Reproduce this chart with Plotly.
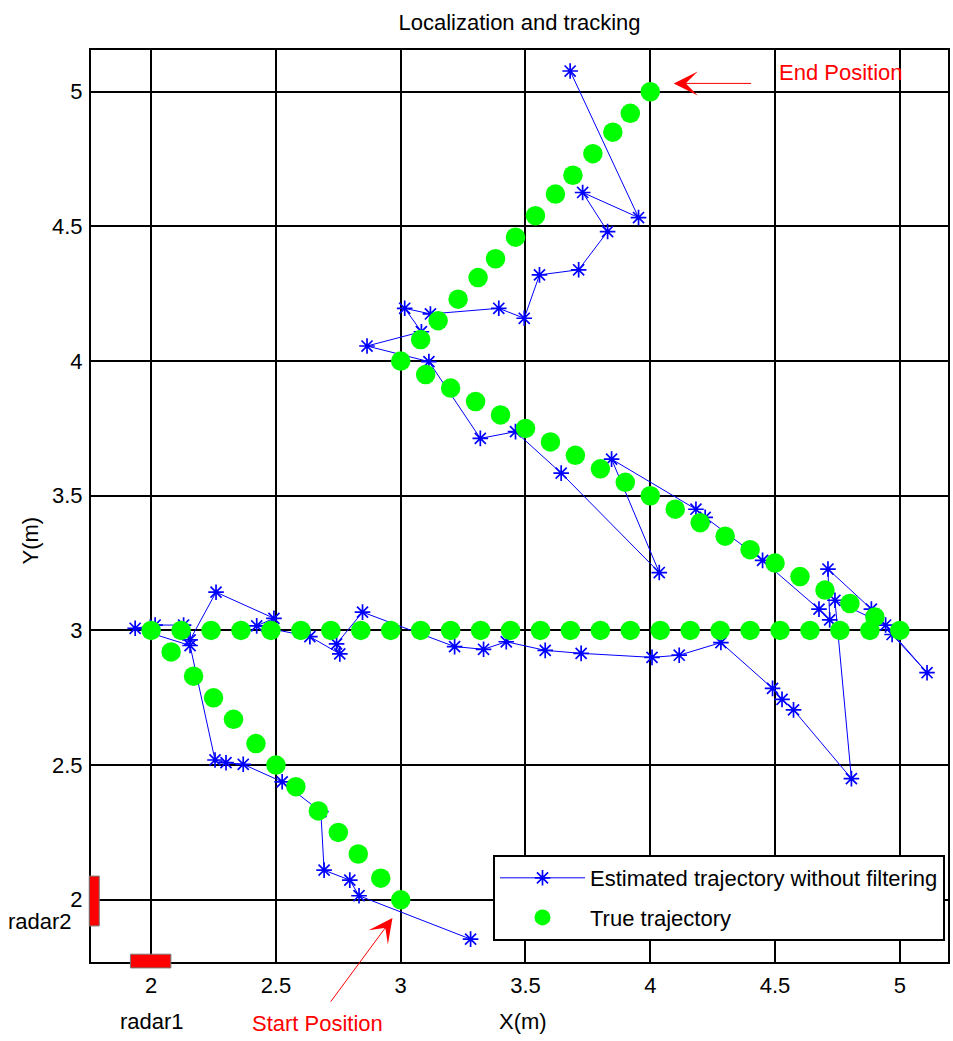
import plotly.graph_objects as go

# ---------------- data ----------------
true_x = [3.0, 2.92, 2.83, 2.75, 2.67, 2.58, 2.5, 2.42, 2.33, 2.25, 2.17, 2.08, 2.0,
          2.12, 2.24, 2.36, 2.48, 2.6, 2.72, 2.84, 2.96, 3.08, 3.2, 3.32, 3.44, 3.56,
          3.68, 3.8, 3.92, 4.04, 4.16, 4.28, 4.4, 4.52, 4.64, 4.76, 4.88, 5.0,
          4.9, 4.8, 4.7, 4.6, 4.5, 4.4, 4.3, 4.2, 4.1, 4.0, 3.9, 3.8, 3.7, 3.6, 3.5,
          3.4, 3.3, 3.2, 3.1, 3.0,
          3.08, 3.15, 3.23, 3.31, 3.38, 3.46, 3.54, 3.62, 3.69, 3.77, 3.85, 3.92, 4.0]
true_y = [2.0, 2.08, 2.17, 2.25, 2.33, 2.42, 2.5, 2.58, 2.67, 2.75, 2.83, 2.92, 3.0,
          3.0, 3.0, 3.0, 3.0, 3.0, 3.0, 3.0, 3.0, 3.0, 3.0, 3.0, 3.0, 3.0,
          3.0, 3.0, 3.0, 3.0, 3.0, 3.0, 3.0, 3.0, 3.0, 3.0, 3.0, 3.0,
          3.05, 3.1, 3.15, 3.2, 3.25, 3.3, 3.35, 3.4, 3.45, 3.5, 3.55, 3.6, 3.65, 3.7, 3.75,
          3.8, 3.85, 3.9, 3.95, 4.0,
          4.08, 4.15, 4.23, 4.31, 4.38, 4.46, 4.54, 4.62, 4.69, 4.77, 4.85, 4.92, 5.0]

est_x = [3.28, 2.833, 2.796, 2.693, 2.68, 2.525, 2.369, 2.30, 2.256, 2.156,
         1.936, 2.016, 2.13, 2.156, 2.26, 2.492, 2.423, 2.636, 2.756, 2.743,
         2.847, 3.216, 3.332, 3.423, 3.579, 3.723, 4.007, 4.116, 4.283, 4.49,
         4.528, 4.574, 4.806, 4.74, 4.943, 4.969, 5.109, 4.886, 4.712, 4.719,
         4.676, 4.45, 4.22, 4.183, 3.845, 4.036, 3.643, 3.46, 3.319, 3.113,
         2.865, 3.083, 3.016, 3.119, 3.393, 3.495, 3.556, 3.713, 3.829, 3.729,
         3.953, 3.679]
est_y = [1.854, 2.015, 2.073, 2.11, 2.327, 2.438, 2.503, 2.509, 2.519, 2.944,
         3.008, 3.02, 3.02, 2.965, 3.142, 3.045, 3.017, 2.977, 2.913, 2.95,
         3.068, 2.94, 2.93, 2.958, 2.926, 2.915, 2.90, 2.908, 2.955, 2.785,
         2.744, 2.705, 2.45, 3.112, 3.02, 2.985, 2.843, 3.079, 3.228, 3.039,
         3.079, 3.26, 3.42, 3.45, 3.636, 3.215, 3.584, 3.738, 3.713, 3.998,
         4.056, 4.109, 4.196, 4.175, 4.196, 4.159, 4.32, 4.339, 4.481, 4.626,
         4.533, 5.077]

tick_vals = [2, 2.5, 3, 3.5, 4, 4.5, 5]
tick_text = ["2", "2.5", "3", "3.5", "4", "4.5", "5"]

# radar boxes (x0, x1, y0, y1) in data units
radar1_box = (1.917, 2.079, 1.747, 1.798)
radar2_box = (1.752, 1.792, 1.903, 2.088)

X_RANGE = [1.759, 5.193]
Y_RANGE = [1.769, 5.155]

FONT = "Arial, Liberation Sans, sans-serif"
FS = 22


def px(v):
    return (v - X_RANGE[0]) / (X_RANGE[1] - X_RANGE[0])


def py(v):
    return (v - Y_RANGE[0]) / (Y_RANGE[1] - Y_RANGE[0])


fig = go.Figure()

fig.add_trace(go.Scatter(
    x=est_x, y=est_y, mode="lines+markers",
    name="Estimated trajectory without filtering",
    line=dict(color="#0000ff", width=1),
    marker=dict(symbol="asterisk-open", size=13, color="#0000ff",
                line=dict(color="#0000ff", width=1.7)),
    legendgroup="a", cliponaxis=False,
))
fig.add_trace(go.Scatter(
    x=true_x, y=true_y, mode="markers", name="True trajectory",
    marker=dict(symbol="circle", size=19.5, color="#00ff00", line=dict(width=0)),
    legendgroup="b",
))

for (x0, x1, y0, y1) in (radar1_box, radar2_box):
    fig.add_shape(type="rect", xref="paper", yref="paper",
                  x0=px(x0), x1=px(x1), y0=py(y0), y1=py(y1),
                  fillcolor="#ff0000", line=dict(color="#777777", width=1),
                  layer="above")

ann_font = dict(family=FONT, size=FS, color="black")
red_font = dict(family=FONT, size=FS, color="#ff0000")

annotations = [
    dict(text="Y(m)", xref="paper", yref="paper", x=-0.0706, y=0.4627,
         textangle=-90, showarrow=False, font=ann_font, xanchor="center", yanchor="middle"),
    dict(text="X(m)", xref="paper", yref="paper", x=0.504, y=-0.0647,
         showarrow=False, font=ann_font, xanchor="center", yanchor="middle"),
    dict(text="radar2", xref="paper", yref="paper", x=-0.059, y=0.0439,
         showarrow=False, font=ann_font, xanchor="center", yanchor="middle"),
    dict(text="radar1", xref="paper", yref="paper", x=0.0713, y=-0.0647,
         showarrow=False, font=ann_font, xanchor="center", yanchor="middle"),
    dict(text="Start Position", xref="paper", yref="paper", x=0.2645, y=-0.0669,
         showarrow=False, font=red_font, xanchor="center", yanchor="middle"),
    dict(text="End Position", xref="paper", yref="paper", x=0.8755, y=0.9748,
         showarrow=False, font=red_font, xanchor="center", yanchor="middle"),
    dict(text="", x=2.967, y=1.932, ax=2.715, ay=1.616, xref="x", yref="y",
         axref="x", ayref="y", showarrow=True, arrowhead=3, arrowsize=4,
         arrowwidth=1, arrowcolor="#ff0000"),
    dict(text="", x=4.094, y=5.031, ax=4.41, ay=5.031, xref="x", yref="y",
         axref="x", ayref="y", showarrow=True, arrowhead=3, arrowsize=4,
         arrowwidth=1, arrowcolor="#ff0000"),
]

axis_common = dict(
    tickvals=tick_vals, ticktext=tick_text,
    showgrid=True, gridcolor="black", gridwidth=2,
    showline=True, linecolor="black", linewidth=2, mirror=True,
    zeroline=False, ticks="",
    tickfont=dict(family=FONT, size=FS, color="black"),
)

fig.update_layout(
    width=953, height=1041,
    margin=dict(l=91, r=3, t=50, b=79),
    paper_bgcolor="white", plot_bgcolor="white",
    title=dict(text="Localization and tracking", x=0.5, xref="paper",
               y=1 - 22 / 1041, yref="container", xanchor="center", yanchor="middle",
               font=dict(family=FONT, size=FS, color="black")),
    xaxis=dict(range=X_RANGE, ticklabelstandoff=3, **axis_common),
    yaxis=dict(range=Y_RANGE, ticklabelstandoff=2, **axis_common),
    legend=dict(x=0.9965, y=0.1173, xanchor="right", yanchor="top",
                bgcolor="white", bordercolor="black", borderwidth=2,
                font=dict(family=FONT, size=FS, color="black"),
                tracegroupgap=8, itemwidth=85),
    annotations=annotations,
    showlegend=True,
)

fig.write_html("out.html")
